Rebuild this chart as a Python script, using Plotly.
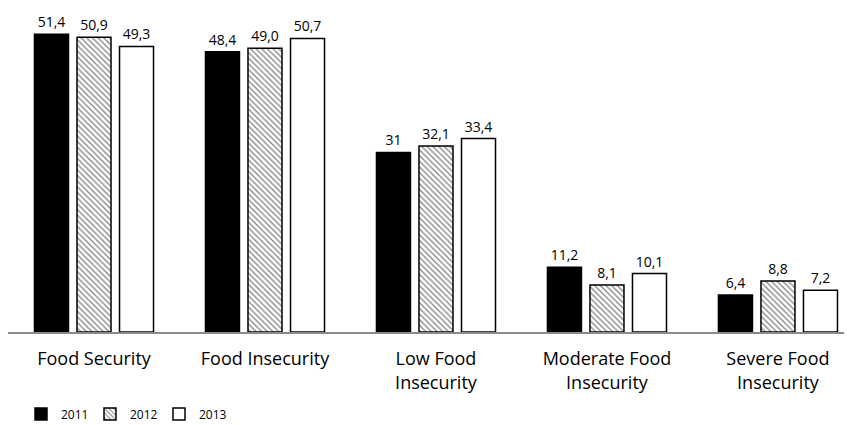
import plotly.graph_objects as go

categories = ["Food Security", "Food Insecurity", "Low Food<br>Insecurity",
              "Moderate Food<br>Insecurity", "Severe Food<br>Insecurity"]
years = ["2011", "2012", "2013"]
v2011 = [51.4, 48.4, 31.0, 11.2, 6.4]
v2012 = [50.9, 49.0, 32.1, 8.1, 8.8]
v2013 = [49.3, 50.7, 33.4, 10.1, 7.2]
t2011 = ["51,4", "48,4", "31", "11,2", "6,4"]
t2012 = ["50,9", "49,0", "32,1", "8,1", "8,8"]
t2013 = ["49,3", "50,7", "33,4", "10,1", "7,2"]

FONT = "Open Sans"
fig = go.Figure()

fig.add_trace(go.Bar(
    name=years[0], x=categories, y=v2011, text=t2011,
    marker=dict(color="black", line=dict(color="black", width=1.5)),
))
fig.add_trace(go.Bar(
    name=years[1], x=categories, y=v2012, text=t2012,
    marker=dict(color="white", line=dict(color="black", width=1.5),
                pattern=dict(shape="\\", fgcolor="black", bgcolor="white",
                             size=4, solidity=0.3)),
))
fig.add_trace(go.Bar(
    name=years[2], x=categories, y=v2013, text=t2013,
    marker=dict(color="white", line=dict(color="black", width=1.5)),
))

fig.update_traces(textposition="outside", cliponaxis=False,
                  textfont=dict(family=FONT, size=14, color="black"))

fig.update_layout(
    width=844, height=417,
    margin=dict(l=0, r=0, t=2, b=93, autoexpand=False),
    paper_bgcolor="white", plot_bgcolor="white",
    barmode="group", bargap=0.254, bargroupgap=0.2,
    font=dict(family=FONT, color="black"),
    showlegend=True,
    legend=dict(orientation="h", x=0.0154, xanchor="left", y=-0.255, yanchor="middle",
                font=dict(family=FONT, size=12), itemwidth=30,
                entrywidth=24, entrywidthmode="pixels", traceorder="normal"),
    xaxis=dict(range=[-0.503, 4.433], showline=True, linecolor="#8a8a8a", linewidth=1.5,
               showgrid=False, ticks="", tickfont=dict(family=FONT, size=18),
               ticklabelstandoff=10, automargin=False),
    yaxis=dict(range=[0, 55.6], visible=False, showgrid=False, zeroline=False,
               automargin=False),
)

fig.write_html("out.html")
